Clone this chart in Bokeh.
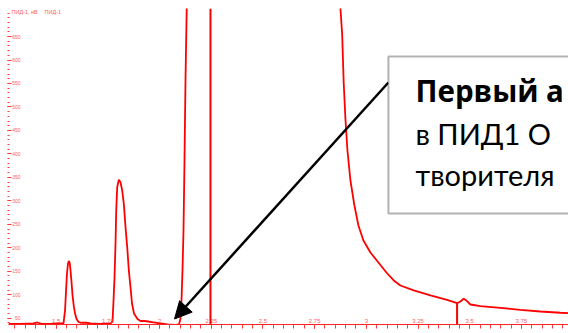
from bokeh.plotting import figure
from bokeh.models import Range1d, FixedTicker, Span, BoxAnnotation, Arrow, NormalHead, Label
from bokeh.embed import file_html
from bokeh.resources import INLINE

# Chromatogram trace (time in minutes, signal in nV)
time_min = [1.269, 1.327, 1.390, 1.410, 1.429, 1.472, 1.511, 1.535,
            1.5426, 1.5474, 1.5522, 1.5571, 1.5609, 1.5653, 1.5691, 1.5740, 1.5788,
            1.5851, 1.5909, 1.5982, 1.6078, 1.6175, 1.6465, 1.6659, 1.7142, 1.7626,
            1.7722, 1.7771, 1.7819, 1.7867, 1.7901, 1.7949, 1.8027, 1.8109, 1.8191,
            1.8269, 1.8351, 1.8433, 1.8511, 1.8593, 1.8665, 1.8762, 1.8931, 1.9076,
            1.9246, 1.9367, 1.9705, 2.0044, 2.0382, 2.0769, 2.0938,
            2.1011, 2.1059, 2.1107, 2.1156, 2.1204, 2.1252, 2.1301, 2.1349,
            2.15, 2.50, 2.85, 2.870,
            2.8747, 2.8830, 2.8907, 2.8989, 2.9086, 2.9231, 2.9424, 2.9618, 2.9860,
            3.0198, 3.0585, 3.0972, 3.1325, 3.1649, 3.2292, 3.3100, 3.3907, 3.4391,
            3.4550, 3.4710, 3.4840, 3.5034, 3.5517, 3.6484, 3.7452, 3.8419, 3.9386, 3.9870]
signal_nv = [37.7, 37.7, 38.8, 40.9, 37.7, 37.7, 38.8, 38.8,
             66.5, 109.1, 147.4, 166.6, 171.9, 167.6, 151.7, 126.1, 98.4,
             75.0, 60.1, 48.4, 42.0, 40.3, 40.3, 39.2, 38.1, 38.8,
             43.0, 87.8, 137.4, 208.5, 279.4, 329.1, 344.8, 339.7, 322.0,
             293.7, 243.9, 201.3, 151.7, 115.4, 81.4, 60.1, 48.4, 44.1,
             44.1, 43.5, 40.9, 38.8, 36.6, 36.0, 36.6,
             49.4, 87.8, 151.7, 236.9, 385.9, 556.3, 684.1, 800.0,
             1500.0, 3000.0, 1500.0, 748.0,
             709.7, 655.8, 549.3, 474.8, 407.2, 343.3, 290.1, 247.5, 215.5,
             190.0, 168.7, 147.4, 130.4, 119.7, 109.1, 98.4, 89.2, 82.0,
             85.6, 91.4, 87.8, 79.2, 75.6, 72.2, 67.9, 64.3, 61.6, 60.5]

# Integration drop line of the small peak
drop_time = [3.439]
drop_signal = [82.0]
# Marker line
marker_time = 2.246

x_major = [1.25, 1.5, 1.75, 2.0, 2.25, 2.5, 2.75, 3.0, 3.25, 3.5, 3.75, 4.0]
x_minor = [round(1.25 + 0.05 * i, 2) for i in range(56)]
y_major = [50, 100, 150, 200, 250, 300, 350, 400, 450, 500, 550, 600, 650]
y_minor = list(range(40, 711, 10))

Y0, Y1 = 36.6, 709.7
X0, X1 = 1.269, 3.978

RED = "#ff0000"
LBL = "#ff5c5c"

p = figure(width=568, height=333, output_backend="svg", toolbar_location=None,
           x_range=Range1d(X0, X1), y_range=Range1d(Y0, Y1),
           min_border_left=8, min_border_right=0, min_border_top=8, min_border_bottom=9)
p.outline_line_color = None
p.grid.visible = False
p.background_fill_color = "white"

# y axis
ya = p.yaxis[0]
ya.ticker = FixedTicker(ticks=y_major, minor_ticks=y_minor)
ya.axis_line_color = None
ya.major_tick_in = 3
ya.major_tick_out = 1
ya.minor_tick_in = 1
ya.minor_tick_out = 1
ya.major_tick_line_color = "#ff3b3b"
ya.minor_tick_line_color = "#ff3b3b"
ya.major_label_standoff = -13
ya.major_label_text_font = "Liberation Sans"
ya.major_label_text_font_size = "5px"
ya.major_label_text_color = LBL

# x axis
xa = p.xaxis[0]
xa.ticker = FixedTicker(ticks=x_major, minor_ticks=x_minor)
xa.major_label_overrides = {t: f"{t:g}" for t in x_major}
xa.axis_line_color = "#ff2020"
xa.axis_line_width = 1.2
xa.major_tick_in = 0
xa.major_tick_out = 4
xa.minor_tick_in = 0
xa.minor_tick_out = 4
xa.major_tick_line_color = "#ff3b3b"
xa.minor_tick_line_color = "#ff3b3b"
xa.major_label_standoff = -10
xa.major_label_text_font = "Liberation Sans"
xa.major_label_text_font_size = "6px"
xa.major_label_text_color = LBL

p.line(time_min, signal_nv, line_color=RED, line_width=1.8)
p.segment(x0=drop_time, y0=[Y0] * len(drop_time), x1=drop_time, y1=drop_signal,
          line_color=RED, line_width=2)
p.add_layout(Span(location=marker_time, dimension="height", line_color=RED, line_width=2))

# header texts
p.add_layout(Label(x=3, y=313, x_units="screen", y_units="screen", text="ПИД-1, нВ",
                   text_font="Liberation Sans", text_font_size="5.5px", text_color=LBL,
                   text_baseline="middle"))
p.add_layout(Label(x=36, y=313, x_units="screen", y_units="screen", text="ПИД-1",
                   text_font="Liberation Sans", text_font_size="5.5px", text_color=LBL,
                   text_baseline="middle"))

# callout
p.add_layout(Arrow(x_start=3.1069, y_start=552.1, x_end=2.0720, y_end=48.3,
                   line_color="black", line_width=2.5,
                   end=NormalHead(size=17, fill_color="black", line_color="black")))
p.add_layout(BoxAnnotation(left=3.1069, right=4.5, bottom=273.1, top=607.5,
                           fill_color="white", fill_alpha=1.0,
                           line_color="black", line_width=2))
callout = [("Первый а", 234, "Open Sans", "bold", 29.5),
           ("в ПИД1 О", 191, "Lato", "normal", 29),
           ("творителя", 150, "Lato", "normal", 29)]
for txt, yb, fnt, style, size in callout:
    p.add_layout(Label(x=407, y=yb, x_units="screen", y_units="screen", text=txt,
                       text_font=fnt, text_font_size=f"{size}px",
                       text_font_style=style,
                       text_color="black", text_baseline="alphabetic"))

open("out.html", "w").write(file_html(p, INLINE))
